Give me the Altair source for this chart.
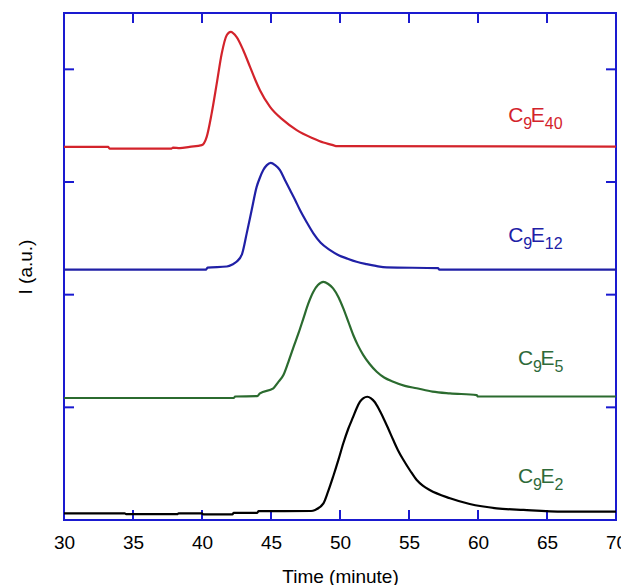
import altair as alt
import pandas as pd

# Stacked elution traces: retention time (minute) and intensity (a.u., offset per sample)
series = ["C9E40", "C9E12", "C9E5", "C9E2"]

time_e40 = [30, 33.2, 33.3, 37.8, 37.9, 38.4, 39.1, 39.98, 40.34, 40.7, 41.07, 41.43,
            41.79, 42.08, 42.5, 42.99, 43.48, 43.85, 44.2, 44.93, 45.89, 46.86, 48.07,
            48.8, 49.5, 49.7, 70]
int_e40 = [3.312, 3.312, 3.297, 3.297, 3.305, 3.30, 3.312, 3.327, 3.401, 3.609, 3.875, 4.141,
           4.303, 4.333, 4.288, 4.17, 4.022, 3.91, 3.815, 3.667, 3.549, 3.46, 3.386,
           3.35, 3.327, 3.318, 3.314]

time_e12 = [30, 40.3, 40.4, 41.8, 42.2, 42.5, 42.9, 43.24, 43.6, 43.96, 44.2, 44.44, 44.7,
            44.98, 45.3, 45.65, 46.0, 46.38, 46.75, 47.1, 47.6, 48.07, 48.6, 49.28, 49.9,
            50.49, 51.2, 51.93, 52.6, 53.38, 57.1, 57.2, 70]
int_e12 = [2.223, 2.223, 2.24, 2.25, 2.268, 2.292, 2.36, 2.544, 2.751, 2.957, 3.04, 3.106, 3.15,
           3.17, 3.15, 3.106, 3.02, 2.928, 2.84, 2.751, 2.64, 2.544, 2.46, 2.396, 2.35,
           2.322, 2.292, 2.271, 2.255, 2.242, 2.236, 2.223, 2.223]

time_e5 = [30, 42.3, 42.4, 44.0, 44.2, 45.17, 45.5, 45.9, 46.25, 46.6, 47.0, 47.35, 47.7,
           48.07, 48.4, 48.79, 49.15, 49.5, 49.9, 50.24, 50.6, 50.96, 51.3, 51.69, 52.15,
           52.66, 53.2, 53.86, 54.7, 55.56, 56.7, 57.97, 59.9, 60.0, 70]
int_e5 = [1.083, 1.083, 1.096, 1.10, 1.124, 1.169, 1.22, 1.287, 1.40, 1.524, 1.66, 1.79, 1.92,
          2.026, 2.085, 2.114, 2.095, 2.056, 1.975, 1.878, 1.76, 1.642, 1.55, 1.464, 1.385,
          1.316, 1.265, 1.227, 1.19, 1.169, 1.14, 1.124, 1.109, 1.096, 1.096]

time_e2 = [30, 34.4, 34.5, 38.2, 38.3, 40.0, 40.1, 42.2, 42.3, 44.0, 44.1, 47.9, 48.2, 48.8,
           49.1, 49.5, 49.9, 50.24, 50.6, 50.96, 51.2, 51.45, 51.7, 51.98, 52.25, 52.5, 52.8,
           53.1, 53.5, 53.86, 54.2, 54.6, 55.1, 55.56, 56.0, 56.5, 57.97, 59.4, 61.35, 63.3,
           66.2, 70]
int_e2 = [0.059, 0.059, 0.052, 0.052, 0.058, 0.058, 0.050, 0.050, 0.064, 0.064, 0.078, 0.080,
          0.089, 0.148, 0.24, 0.384, 0.54, 0.681, 0.81, 0.917, 0.99, 1.05, 1.082, 1.094, 1.08,
          1.05, 0.99, 0.917, 0.81, 0.71, 0.62, 0.532, 0.435, 0.355, 0.305, 0.266, 0.193,
          0.142, 0.104, 0.089, 0.074, 0.074]

line_colors = ["#d3232b", "#2020a6", "#2b6b2f", "#000000"]

# Curve labels (C + subscript 9 + E + subscript n)
label_sub = ["40", "12", "5", "2"]
label_time = [62.2, 62.2, 62.9, 62.9]
label_level = [3.536, 2.471, 1.375, 0.328]
label_colors = ["#d3232b", "#2020a6", "#2e6a3a", "#2e6a3a"]

x_ticks = [35, 40, 45, 50, 55, 60, 65]
y_ticks = [1, 2, 3, 4]

FRAME = "#1a1ad0"
FONT = "Liberation Sans"

traces = pd.concat([
    pd.DataFrame({"time": t, "intensity": v, "sample": name, "idx": range(len(t))})
    for name, t, v in zip(series,
                          [time_e40, time_e12, time_e5, time_e2],
                          [int_e40, int_e12, int_e5, int_e2])
], ignore_index=True)

labels = pd.DataFrame({
    "time": label_time, "intensity": label_level,
    "sub": label_sub, "color": label_colors,
})

x_scale = alt.Scale(domain=[30, 70], nice=False, zero=False)
y_scale = alt.Scale(domain=[0, 4.5], nice=False, zero=False)

x_enc = alt.X("time:Q", scale=x_scale,
              axis=alt.Axis(title="Time (minute)", values=[30, 35, 40, 45, 50, 55, 60, 65, 70],
                            ticks=False, domain=False, grid=False, labelPadding=13,
                            labelFlush=False, labelOverlap=False, titlePadding=15))
y_enc = alt.Y("intensity:Q", scale=y_scale,
              axis=alt.Axis(title="I (a.u.)", labels=False, ticks=False, domain=False,
                            grid=False, titlePadding=29))

lines = alt.Chart(traces).mark_line(strokeWidth=2.2, interpolate="monotone").encode(
    x=x_enc, y=y_enc,
    color=alt.Color("sample:N", scale=alt.Scale(domain=series, range=line_colors), legend=None),
    detail="sample:N",
    order="idx:Q",
)

base_lbl = alt.Chart(labels).encode(
    x=alt.X("time:Q", scale=x_scale),
    y=alt.Y("intensity:Q", scale=y_scale),
    color=alt.Color("color:N", scale=None),
)
txt_c = base_lbl.mark_text(text="C", fontSize=21, font=FONT, align="left",
                           baseline="alphabetic")
txt_9 = base_lbl.mark_text(text="9", fontSize=16, font=FONT, align="left",
                           baseline="alphabetic", dx=15, dy=7)
txt_e = base_lbl.mark_text(text="E", fontSize=21, font=FONT, align="left",
                           baseline="alphabetic", dx=22.5)
txt_n = base_lbl.mark_text(fontSize=16, font=FONT, align="left",
                           baseline="alphabetic", dx=36.5, dy=7).encode(text="sub:N")

xt = pd.DataFrame({"time": x_ticks})
yt = pd.DataFrame({"intensity": y_ticks})
tick_style = dict(color=FRAME, strokeWidth=2)
ticks_bottom = alt.Chart(xt).mark_rule(**tick_style).encode(
    x=alt.X("time:Q", scale=x_scale), y=alt.value(507), y2=alt.value(497))
ticks_top = alt.Chart(xt).mark_rule(**tick_style).encode(
    x=alt.X("time:Q", scale=x_scale), y=alt.value(0), y2=alt.value(10))
ticks_left = alt.Chart(yt).mark_rule(**tick_style).encode(
    y=alt.Y("intensity:Q", scale=y_scale), x=alt.value(0), x2=alt.value(10))
ticks_right = alt.Chart(yt).mark_rule(**tick_style).encode(
    y=alt.Y("intensity:Q", scale=y_scale), x=alt.value(542), x2=alt.value(552))

chart = alt.layer(
    ticks_bottom, ticks_top, ticks_left, ticks_right,
    lines, txt_c, txt_9, txt_e, txt_n,
).properties(
    width=552, height=507,
    autosize=alt.AutoSizeParams(type="none"),
    padding={"left": 64, "top": 13, "right": 5, "bottom": 65},
    background="white",
).configure_view(
    stroke=FRAME, strokeWidth=2,
).configure_axis(
    labelFont=FONT, titleFont=FONT, labelFontSize=19, titleFontSize=19,
    labelColor="black", titleColor="black", titleFontWeight="normal",
)

chart.save("out.html", embed_options={"renderer": "svg", "actions": False})
